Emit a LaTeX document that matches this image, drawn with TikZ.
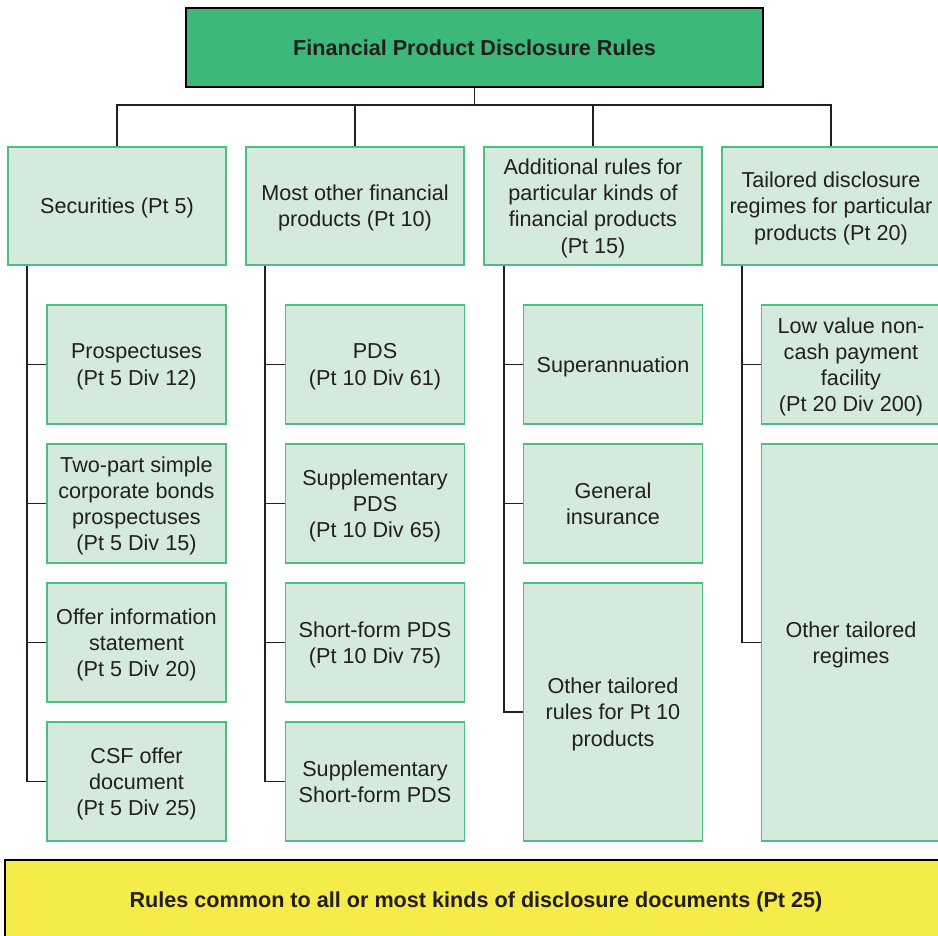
\documentclass[tikz,border=0pt]{standalone}
\usepackage{fontspec}
\setmainfont{Liberation Sans}
\usetikzlibrary{calc}

\definecolor{headgreen}{RGB}{60,184,120}
\definecolor{boxgreen}{RGB}{76,191,128}
\definecolor{mint}{RGB}{211,234,220}
\definecolor{commonyellow}{RGB}{245,236,74}
\definecolor{ink}{RGB}{35,31,32}

\begin{document}
\begin{tikzpicture}[x=0.02cm,y=-0.02cm,line join=miter,
    every node/.style={text=ink,align=center,inner sep=0pt,
      font=\fontsize{12.3}{14.9}\selectfont},
    headbox/.style={draw=black,fill=headgreen,line width=.9pt,
      minimum width=11.54cm,minimum height=1.58cm,
      font=\fontsize{12.3}{14.9}\selectfont\bfseries},
    partbox/.style={draw=boxgreen,fill=mint,line width=.9pt,text depth=0pt,
      minimum width=4.36cm,minimum height=2.36cm},
    subbox/.style={draw=boxgreen,fill=mint,line width=.9pt,text depth=0pt,
      minimum width=3.58cm,minimum height=2.38cm},
    commonbox/.style={draw=black,fill=commonyellow,line width=.9pt,
      text depth=0pt,minimum width=18.84cm,minimum height=1.6cm,
      font=\fontsize{12.3}{14.9}\selectfont\bfseries},
    link/.style={draw=ink,line width=.85pt}]
    \clip (0,0) rectangle (938,936);

    % Top of the tree.
    \node[headbox] (title) at (474.5,47.5) {Financial Product Disclosure Rules};

    % The four parts.
    \node[partbox] (sec) at (117,206) {Securities (Pt 5)};
    \node[partbox] (most) at (355,206) {Most other financial\\products (Pt 10)};
    \node[partbox] (addl) at (593,206) {Additional rules for\\particular kinds of\\financial products\\(Pt 15)};
    \node[partbox] (tail) at (831,206) {Tailored disclosure\\regimes for particular\\products (Pt 20)};

    \foreach \p in {sec,most,addl,tail}
      \draw[link] (title.south) -- ++(0,17) -| (\p.north);

    % Pt 5 documents.
    \node[subbox] (pros) at (136.5,364.5) {Prospectuses\\(Pt 5 Div 12)};
    \node[subbox] (bonds) at (136.5,503.5) {Two-part simple\\corporate bonds\\prospectuses\\(Pt 5 Div 15)};
    \node[subbox] (ois) at (136.5,642.5) {Offer information\\statement\\(Pt 5 Div 20)};
    \node[subbox] (csf) at (136.5,781.5) {CSF offer\\document\\(Pt 5 Div 25)};

    % Pt 10 documents.
    \node[subbox] (pds) at (375,364.5) {PDS\\(Pt 10 Div 61)};
    \node[subbox] (spds) at (375,503.5) {Supplementary\\PDS\\(Pt 10 Div 65)};
    \node[subbox] (sfpds) at (375,642.5) {Short-form PDS\\(Pt 10 Div 75)};
    \node[subbox] (ssfpds) at (375,781.5) {Supplementary\\Short-form PDS};

    % Pt 15 rules.
    \node[subbox] (super) at (613,364.5) {Superannuation};
    \node[subbox] (genins) at (613,503.5) {General\\insurance};
    \node[subbox,minimum height=5.16cm] (othrules) at (613,712) {Other tailored\\rules for Pt 10\\products};

    % Pt 20 regimes.
    \node[subbox] (lowval) at (851,364.5) {Low value non-\\cash payment\\facility\\(Pt 20 Div 200)};
    \node[subbox,minimum height=7.94cm] (othreg) at (851,642.5) {Other tailored\\regimes};

    \foreach \c in {pros,bonds,ois,csf}
      \draw[link] ($(sec.south west)+(20,0)$) |- (\c.west);
    \foreach \c in {pds,spds,sfpds,ssfpds}
      \draw[link] ($(most.south west)+(20,0)$) |- (\c.west);
    \foreach \c in {super,genins,othrules}
      \draw[link] ($(addl.south west)+(21,0)$) |- (\c.west);
    \foreach \c in {lowval,othreg}
      \draw[link] ($(tail.south west)+(21,0)$) |- (\c.west);

    % Common rules.
    \node[commonbox] (common) at (476,900) {Rules common to all or most kinds of disclosure documents (Pt 25)};
  \end{tikzpicture}
\end{document}
